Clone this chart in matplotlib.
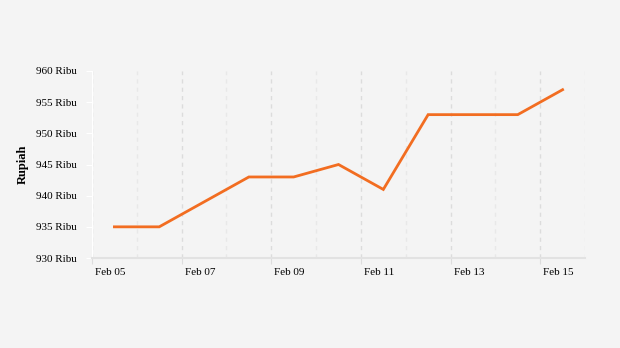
import matplotlib
matplotlib.use("Agg")
import matplotlib.pyplot as plt
import matplotlib.transforms as mtransforms
from datetime import datetime, timedelta

dates = ["2024-02-05", "2024-02-06", "2024-02-08", "2024-02-09", "2024-02-10",
         "2024-02-11", "2024-02-12", "2024-02-13", "2024-02-14", "2024-02-15"]
prices = [935, 935, 943, 943, 945, 941, 953, 953, 953, 957]
y_ticks = [930, 935, 940, 945, 950, 955, 960]
x_labels = ["Feb 05", "Feb 07", "Feb 09", "Feb 11", "Feb 13", "Feb 15"]

plt.rcParams['font.family'] = ['Liberation Serif', 'DejaVu Serif']
bg = '#f4f4f4'

x = [datetime.strptime(d, "%Y-%m-%d") + timedelta(hours=12) for d in dates]

fig = plt.figure(figsize=(6.2, 3.48), dpi=100, facecolor=bg)
ax = fig.add_axes([92 / 620, 1 - 258 / 348, (585 - 92) / 620, (258 - 71) / 348])
ax.set_facecolor(bg)

ax.plot(x, prices, color='#f26d21', linewidth=2.0, solid_joinstyle='miter')

start = datetime(2024, 2, 5)
end = datetime(2024, 2, 16)
ax.set_xlim(start, end)
ax.set_ylim(930, 960)

major = [start + timedelta(days=2 * i) for i in range(6)]
minor = [start + timedelta(days=2 * i + 1) for i in range(6)]
ax.set_xticks(major)
ax.set_xticklabels(x_labels, ha='left')
ax.set_xticks(minor, minor=True)
ax.tick_params(axis='x', which='major', length=4, color='#dddddd', labelsize=8, pad=3)
ax.tick_params(axis='x', which='minor', length=0)
shift = mtransforms.ScaledTranslation(3 / 100, 0, fig.dpi_scale_trans)
for lbl in ax.get_xticklabels():
    lbl.set_transform(lbl.get_transform() + shift)

ax.set_yticks(y_ticks)
ax.set_yticklabels([f"{v} Ribu" for v in y_ticks])
ax.tick_params(axis='y', length=4, color='white', labelsize=8, pad=7)

ax.grid(True, axis='x', which='major', linestyle=(0, (3, 3)), color='#dcdcdc', linewidth=1)
ax.grid(True, axis='x', which='minor', linestyle=(0, (3, 3)), color='#e8e8e8', linewidth=1)
ax.set_axisbelow(True)

for s in ['top', 'right']:
    ax.spines[s].set_visible(False)
ax.spines['left'].set_color('white')
ax.spines['bottom'].set_color('#e2e2e2')
ax.spines['bottom'].set_linewidth(1.5)

ax.set_ylabel('Rupiah', fontsize=9, fontweight='bold', labelpad=5)

fig.savefig('out.png', dpi=100, facecolor=bg)
